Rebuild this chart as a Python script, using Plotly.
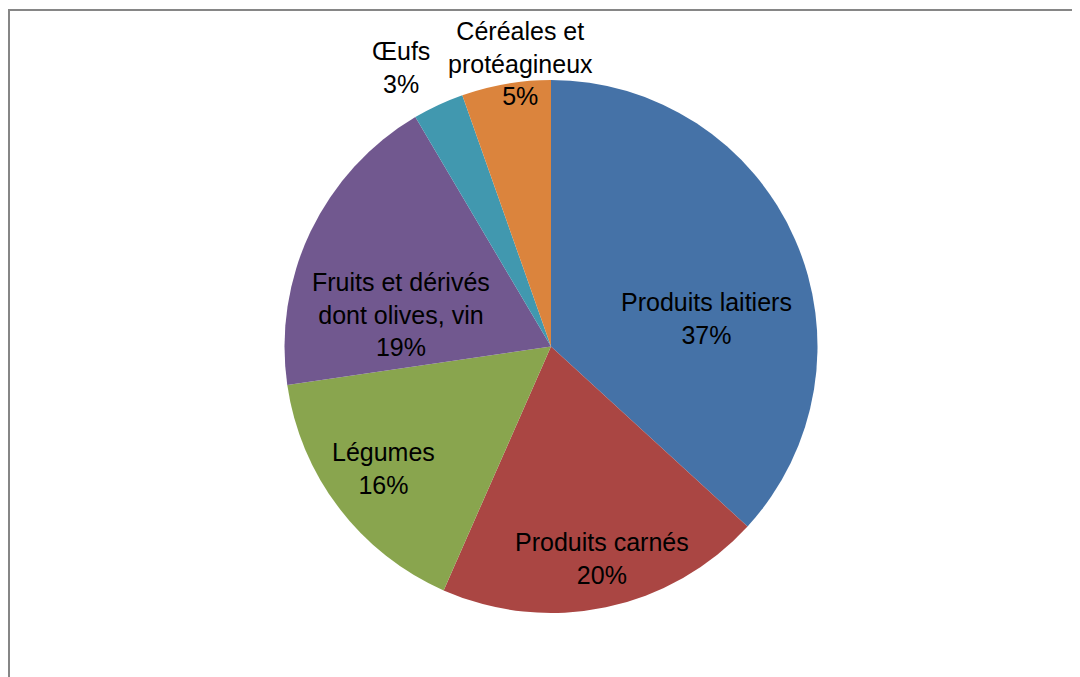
import plotly.graph_objects as go

categories = ["Produits laitiers", "Produits carnés", "Légumes",
              "Fruits et dérivés<br>dont olives, vin", "Œufs",
              "Céréales et<br>protéagineux"]
values = [36.8, 19.8, 16.1, 18.8, 3.1, 5.4]
colors = ["#4572A7", "#AA4643", "#89A54E", "#71588F", "#4198AF", "#DB843D"]

# label anchor positions in the page (pixels), as placed in the reference
label_px = [(706, 318), (602, 558), (383, 468), (401, 314), (401, 68), (520, 63)]

W, H = 1080, 677
OFF = 8  # page body margin offset
FONT = dict(family="Liberation Sans, Arial, sans-serif", size=25, color="black")

total = sum(values)
pct_text = [f"{round(v / total * 100)}%" for v in values]


def px(x):
    return (x - OFF) / W


def py(y):
    return 1 - (y - OFF) / H


fig = go.Figure(go.Pie(
    labels=categories,
    values=values,
    sort=False,
    direction="clockwise",
    rotation=0,
    marker=dict(colors=colors, line=dict(width=0)),
    textinfo="none",
    domain=dict(x=[px(284), px(818)], y=[py(613), py(80)]),
    showlegend=False,
    hoverinfo="label+percent",
))

annotations = []
for cat, pct, (x, y) in zip(categories, pct_text, label_px):
    annotations.append(dict(
        x=px(x), y=py(y), xref="paper", yref="paper", showarrow=False,
        text=f"{cat}<br>{pct}", font=FONT,
        xanchor="center", yanchor="middle", align="center",
    ))

fig.update_layout(
    width=W, height=H,
    margin=dict(l=0, r=0, t=0, b=0),
    paper_bgcolor="white",
    plot_bgcolor="white",
    annotations=annotations,
    shapes=[
        dict(type="line", xref="paper", yref="paper", x0=px(7), x1=1.0,
             y0=py(10), y1=py(10), line=dict(color="#868686", width=2)),
        dict(type="line", xref="paper", yref="paper", x0=px(8.5), x1=px(8.5),
             y0=0, y1=py(9), line=dict(color="#868686", width=3)),
    ],
)

fig.write_html("out.html")
